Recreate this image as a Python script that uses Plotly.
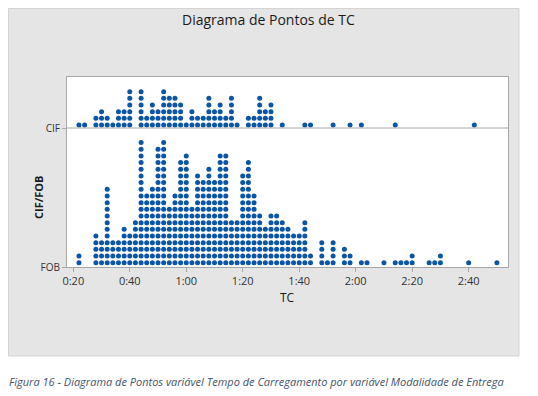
import plotly.graph_objects as go

# ---- data (minutes, count of dots per 2-minute bin) ----
fob_minutes = [22, 28, 30, 32, 34, 36, 38, 40, 42, 44, 46, 48, 50, 52, 54, 56, 58, 60,
               62, 64, 66, 68, 70, 72, 74, 76, 78, 80, 82, 84, 86, 88, 90, 92, 94, 96,
               98, 100, 102, 104, 108, 110, 112, 116, 118, 122, 124, 130, 134, 136, 138,
               140, 146, 148, 150, 160, 170]
fob_counts = [2, 5, 4, 12, 4, 4, 6, 5, 7, 19, 11, 12, 18, 19, 9, 11, 16, 17,
              9, 14, 13, 15, 13, 17, 17, 7, 7, 14, 16, 11, 8, 6, 8, 8, 7, 6,
              5, 5, 7, 2, 4, 1, 4, 3, 2, 1, 1, 1, 1, 1, 1,
              2, 1, 1, 2, 1, 1]

cif_minutes = [22, 24, 28, 30, 32, 34, 36, 38, 40, 44, 46, 48, 50, 52, 54, 56, 58, 60,
               62, 64, 66, 68, 70, 72, 74, 76, 78, 82, 84, 86, 88, 90, 94, 102, 104,
               112, 118, 122, 134, 162]
cif_counts = [1, 1, 2, 3, 2, 1, 3, 3, 6, 6, 2, 4, 3, 6, 5, 5, 4, 1,
              3, 2, 2, 5, 3, 4, 2, 5, 1, 2, 2, 5, 3, 4, 1, 1, 1,
              1, 1, 1, 1, 1]

group_labels = ["CIF", "FOB"]
x_tick_vals = [20, 40, 60, 80, 100, 120, 140, 160]
x_tick_text = ["0:20", "0:40", "1:00", "1:20", "1:40", "2:00", "2:20", "2:40"]

# ---- layout geometry (page pixels; page body has an 8px margin) ----
OFF = 8
W, H = 538 - OFF, 396 - OFF
L, R, T, B = 67 - OFF, 508 - OFF, 77 - OFF, 267 - OFF
dot_px = 6.67
y_top = (B - T) / dot_px
fob_base = 0.0
cif_base = (267 - 128) / dot_px
fob_off = 0.65
cif_off = 0.45


def expand(mins, counts, base, off):
    xs, ys = [], []
    for m, c in zip(mins, counts):
        for k in range(c):
            xs.append(m)
            ys.append(base + off + k)
    return xs, ys


fx, fy = expand(fob_minutes, fob_counts, fob_base, fob_off)
cx, cy = expand(cif_minutes, cif_counts, cif_base, cif_off)

blue = "#0a55a5"
fig = go.Figure()
fig.add_trace(go.Scatter(x=fx, y=fy, mode="markers", name="FOB",
                         marker=dict(size=5, color=blue, line=dict(width=0))))
fig.add_trace(go.Scatter(x=cx, y=cy, mode="markers", name="CIF",
                         marker=dict(size=5, color=blue, line=dict(width=0))))

px_per_min = 2.824
x0 = 20 - (73.3 - 67) / px_per_min
x1 = 20 + (508 - 73.3) / px_per_min


def pxx(p):
    return (p - OFF - L) / (R - L)


def pxy(p):
    return (B - (p - OFF)) / (B - T)


font = "Open Sans"
fig.update_layout(
    width=W, height=H,
    margin=dict(l=L, r=W - R, t=T, b=H - B, pad=0),
    paper_bgcolor="white", plot_bgcolor="white",
    showlegend=False,
    font=dict(family=font, size=11, color="#333333"),
    xaxis=dict(range=[x0, x1], tickvals=x_tick_vals, ticktext=x_tick_text,
               showgrid=False, zeroline=False, showline=True, linecolor="#a8a8a8",
               linewidth=1, mirror=True, ticks="outside", ticklen=4,
               tickcolor="#a8a8a8", tickfont=dict(size=11, color="#333333")),
    yaxis=dict(range=[0, y_top], tickvals=[cif_base, fob_base], ticktext=group_labels,
               showgrid=False, zeroline=False, showline=True, linecolor="#a8a8a8",
               linewidth=1, mirror=True, ticks="outside", ticklen=4,
               tickcolor="#a8a8a8", tickfont=dict(size=10, color="#333333")),
    shapes=[
        dict(type="rect", xref="paper", yref="paper", layer="below",
             x0=pxx(8.5), x1=pxx(519), y0=pxy(356), y1=pxy(8.5),
             fillcolor="#e5e5e5", line=dict(color="#d4d4d4", width=1)),
        dict(type="rect", xref="paper", yref="paper", layer="below",
             x0=0, x1=1, y0=0, y1=1, fillcolor="white", line=dict(width=0)),
        dict(type="line", xref="paper", yref="y", x0=0, x1=1,
             y0=cif_base, y1=cif_base, line=dict(color="#a8a8a8", width=1)),
    ],
    annotations=[
        dict(text="Diagrama de Pontos de TC", xref="paper", yref="paper",
             x=pxx(268), y=pxy(20), showarrow=False, xanchor="center",
             yanchor="middle", font=dict(size=14, color="#1a1a1a", family=font)),
        dict(text="<b>CIF/FOB</b>", xref="paper", yref="paper",
             x=pxx(38), y=pxy(198), showarrow=False, textangle=-90,
             xanchor="center", yanchor="middle",
             font=dict(size=11, color="#1a1a1a", family=font)),
        dict(text="TC", xref="paper", yref="paper", x=pxx(287), y=pxy(297),
             showarrow=False, xanchor="center", yanchor="middle",
             font=dict(size=12, color="#1a1a1a", family=font)),
        dict(text="<i>Figura 16 - Diagrama de Pontos variável Tempo de Carregamento por variável Modalidade de Entrega</i>",
             xref="paper", yref="paper", x=pxx(7), y=pxy(381), showarrow=False,
             xanchor="left", yanchor="middle",
             font=dict(size=11, color="#44546a", family=font)),
    ],
)

fig.write_html("out.html")
